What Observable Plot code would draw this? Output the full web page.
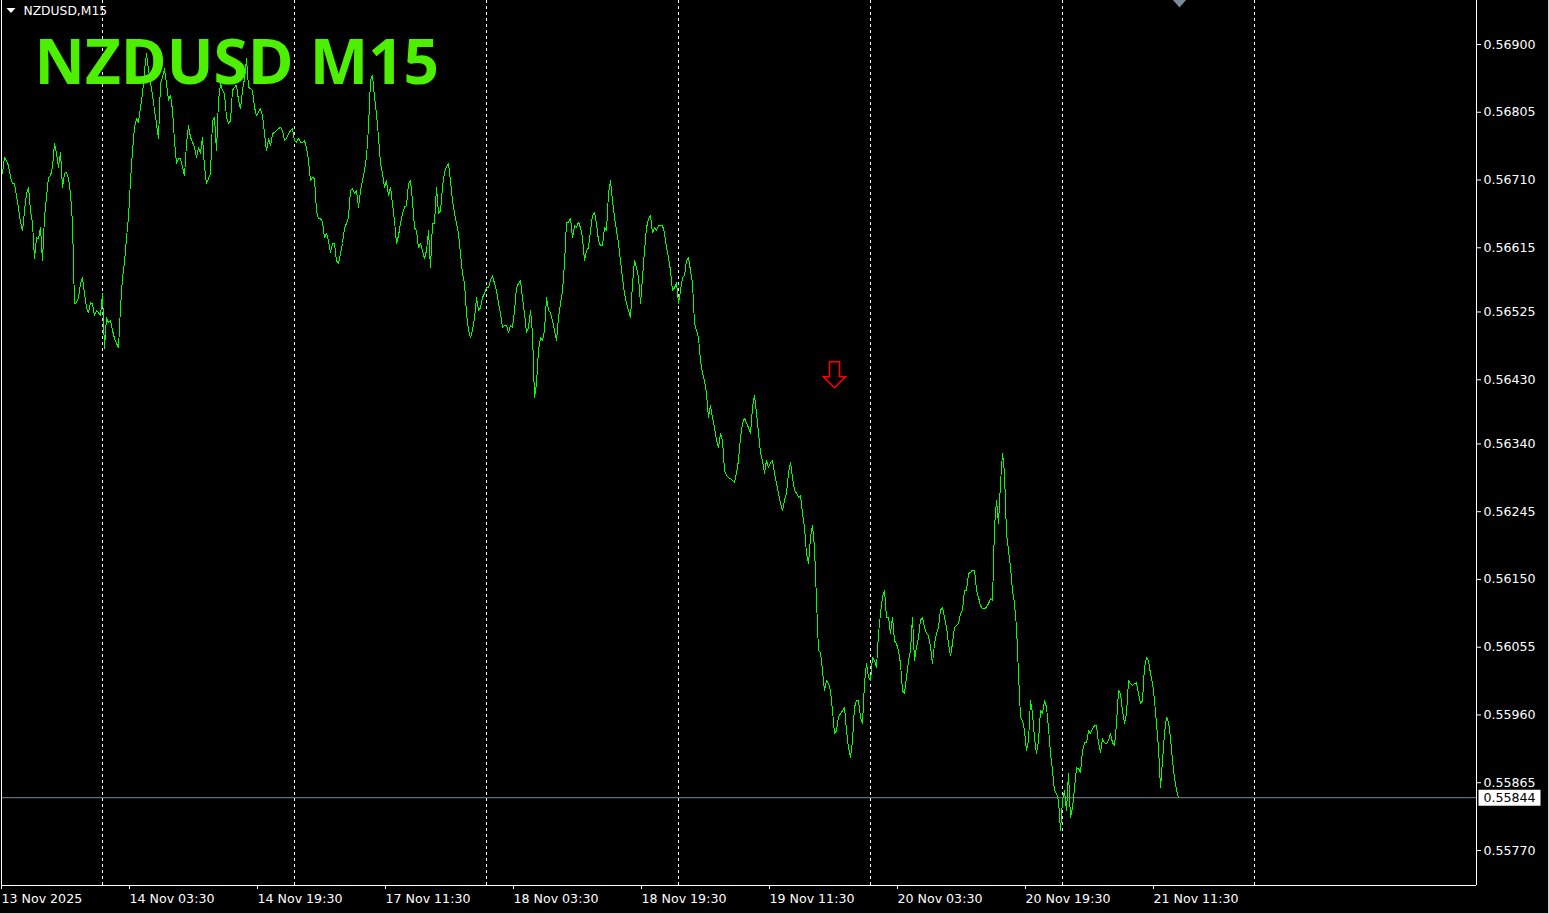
<!DOCTYPE html>
<html>
<head>
<meta charset="utf-8">
<script src="https://cdn.jsdelivr.net/npm/d3@7"></script>
<script src="https://cdn.jsdelivr.net/npm/@observablehq/plot@0.6"></script>
<style>
html, body { margin: 0; padding: 0; background: #000; overflow: hidden; }
#chart { position: relative; width: 1549px; height: 914px; }
#chart::after { content: ""; position: absolute; left: 0; top: 0; width: 1548px; height: 913px;
  border-right: 1px solid #d0d0d0; border-bottom: 1px solid #d0d0d0; pointer-events: none; }
</style>
</head>
<body>
<div id="chart"></div>
<script>
// ---- data ----
const headerText = "NZDUSD,M15";
const titleText = "NZDUSD M15";

// M15 close prices, one per bar, starting 13 Nov 2025 11:30
const closes = [
0.56719,0.56742,0.56737,0.56730,0.56714,0.56705,0.56705,0.56688,0.56670,0.56651,
0.56639,0.56667,0.56691,0.56700,0.56667,0.56649,0.56600,0.56629,0.56628,0.56643,
0.56597,0.56658,0.56686,0.56714,0.56716,0.56728,0.56761,0.56747,0.56728,0.56749,
0.56700,0.56719,0.56721,0.56712,0.56691,0.56649,0.56537,0.56538,0.56545,0.56565,
0.56573,0.56551,0.56531,0.56524,0.56538,0.56537,0.56520,0.56527,0.56524,0.56520,
0.56551,0.56474,0.56517,0.56510,0.56513,0.56499,0.56488,0.56481,0.56475,0.56531,
0.56573,0.56594,0.56629,0.56658,0.56709,0.56751,0.56784,0.56796,0.56791,0.56812,
0.56831,0.56864,0.56887,0.56864,0.56847,0.56829,0.56808,0.56789,0.56768,0.56845,
0.56854,0.56866,0.56845,0.56822,0.56829,0.56808,0.56765,0.56733,0.56740,0.56740,
0.56728,0.56716,0.56761,0.56786,0.56770,0.56763,0.56756,0.56742,0.56756,0.56747,
0.56770,0.56728,0.56705,0.56712,0.56719,0.56793,0.56798,0.56751,0.56822,0.56845,
0.56836,0.56831,0.56798,0.56789,0.56793,0.56836,0.56840,0.56843,0.56822,0.56810,
0.56836,0.56852,0.56880,0.56840,0.56838,0.56836,0.56812,0.56800,0.56805,0.56810,
0.56800,0.56775,0.56751,0.56768,0.56758,0.56775,0.56777,0.56779,0.56782,0.56784,
0.56779,0.56765,0.56768,0.56775,0.56779,0.56782,0.56765,0.56763,0.56768,0.56763,
0.56763,0.56765,0.56756,0.56737,0.56709,0.56714,0.56712,0.56667,0.56656,0.56656,
0.56651,0.56629,0.56635,0.56625,0.56608,0.56621,0.56621,0.56597,0.56593,0.56607,
0.56621,0.56643,0.56649,0.56658,0.56695,0.56698,0.56691,0.56695,0.56672,0.56695,
0.56709,0.56723,0.56742,0.56784,0.56850,0.56857,0.56826,0.56803,0.56770,0.56733,
0.56719,0.56700,0.56709,0.56688,0.56700,0.56677,0.56653,0.56621,0.56632,0.56649,
0.56663,0.56672,0.56674,0.56705,0.56709,0.56681,0.56643,0.56639,0.56615,0.56621,
0.56611,0.56600,0.56611,0.56639,0.56587,0.56649,0.56649,0.56700,0.56663,0.56667,
0.56700,0.56721,0.56728,0.56733,0.56709,0.56681,0.56663,0.56649,0.56635,0.56607,
0.56579,0.56565,0.56523,0.56499,0.56489,0.56499,0.56517,0.56545,0.56527,0.56531,
0.56545,0.56551,0.56559,0.56559,0.56569,0.56576,0.56565,0.56555,0.56537,0.56523,
0.56503,0.56506,0.56506,0.56496,0.56506,0.56503,0.56527,0.56559,0.56565,0.56569,
0.56545,0.56523,0.56496,0.56503,0.56527,0.56495,0.56405,0.56425,0.56471,0.56489,
0.56485,0.56499,0.56545,0.56527,0.56524,0.56513,0.56499,0.56485,0.56517,0.56537,
0.56555,0.56593,0.56651,0.56651,0.56656,0.56629,0.56646,0.56643,0.56651,0.56643,
0.56629,0.56597,0.56611,0.56615,0.56639,0.56660,0.56665,0.56649,0.56625,0.56618,
0.56618,0.56643,0.56639,0.56691,0.56709,0.56681,0.56658,0.56639,0.56621,0.56597,
0.56573,0.56551,0.56537,0.56527,0.56517,0.56565,0.56597,0.56587,0.56573,0.56537,
0.56573,0.56611,0.56643,0.56656,0.56660,0.56636,0.56643,0.56639,0.56646,0.56646,
0.56646,0.56636,0.56615,0.56601,0.56583,0.56555,0.56559,0.56566,0.56537,0.56555,
0.56573,0.56576,0.56597,0.56601,0.56583,0.56565,0.56509,0.56499,0.56489,0.56457,
0.56439,0.56429,0.56411,0.56377,0.56394,0.56377,0.56363,0.56345,0.56335,0.56355,
0.56345,0.56303,0.56296,0.56293,0.56291,0.56289,0.56286,0.56299,0.56317,0.56349,
0.56369,0.56376,0.56369,0.56363,0.56355,0.56391,0.56408,0.56383,0.56355,0.56327,
0.56317,0.56299,0.56317,0.56307,0.56314,0.56317,0.56299,0.56285,0.56271,0.56257,
0.56247,0.56261,0.56271,0.56299,0.56314,0.56293,0.56275,0.56271,0.56265,0.56268,
0.56243,0.56223,0.56186,0.56172,0.56209,0.56226,0.56195,0.56121,0.56050,0.56048,
0.56022,0.55994,0.56008,0.56004,0.55994,0.55966,0.55934,0.55938,0.55957,0.55962,
0.55966,0.55971,0.55938,0.55914,0.55900,0.55924,0.55971,0.55980,0.55980,0.55957,
0.55948,0.56004,0.56032,0.56013,0.56008,0.56041,0.56036,0.56027,0.56074,0.56102,
0.56125,0.56135,0.56097,0.56097,0.56074,0.56097,0.56064,0.56060,0.56050,0.56032,
0.55994,0.55990,0.56013,0.56036,0.56050,0.56097,0.56036,0.56055,0.56069,0.56093,
0.56097,0.56083,0.56074,0.56071,0.56055,0.56032,0.56060,0.56074,0.56083,0.56107,
0.56111,0.56097,0.56083,0.56060,0.56043,0.56060,0.56083,0.56085,0.56088,0.56102,
0.56107,0.56135,0.56135,0.56158,0.56160,0.56163,0.56163,0.56135,0.56125,0.56113,
0.56109,0.56109,0.56111,0.56116,0.56123,0.56121,0.56223,0.56261,0.56229,0.56285,
0.56327,0.56299,0.56214,0.56191,0.56167,0.56135,0.56116,0.56083,0.56018,0.55957,
0.55952,0.55938,0.55910,0.55924,0.55980,0.55962,0.55928,0.55906,0.55924,0.55966,
0.55962,0.55980,0.55971,0.55942,0.55906,0.55882,0.55854,0.55850,0.55840,0.55798,
0.55840,0.55854,0.55826,0.55878,0.55816,0.55830,0.55858,0.55886,0.55885,0.55879,
0.55910,0.55921,0.55921,0.55938,0.55934,0.55941,0.55945,0.55945,0.55921,0.55907,
0.55927,0.55921,0.55920,0.55924,0.55934,0.55921,0.55917,0.55948,0.55994,0.55990,
0.55966,0.55948,0.55962,0.56008,0.56004,0.56001,0.56004,0.56005,0.55990,0.55976,
0.55980,0.56027,0.56041,0.56036,0.56018,0.56005,0.55980,0.55948,0.55914,0.55858,
0.55896,0.55934,0.55957,0.55950,0.55928,0.55896,0.55872,0.55854,0.55844
];

const priceTicks = [0.56900,0.56805,0.56710,0.56615,0.56525,0.56430,0.56340,0.56245,0.56150,0.56055,0.55960,0.55865,0.55770];
const priceTickLabels = ["0.56900","0.56805","0.56710","0.56615","0.56525","0.56430","0.56340","0.56245","0.56150","0.56055","0.55960","0.55865","0.55770"];

const timeTickBars = [0,64,128,192,256,320,384,448,512,576];
const timeTickLabels = ["13 Nov 2025","14 Nov 03:30","14 Nov 19:30","17 Nov 11:30","18 Nov 03:30","18 Nov 19:30","19 Nov 11:30","20 Nov 03:30","20 Nov 19:30","21 Nov 11:30"];

const daySeparatorBars = [50,146,242,338,434,530,626];

const lastPrice = 0.55844;
const lastPriceLabel = "0.55844";

const sellSignals = [{bar: 416, price: 0.56437}];
const shiftMarkerBars = [588.5];

const barDomain = [-0.5, 737];
const priceDomain = [0.557209, 0.569617];

// ---- custom symbols ----
const arrowDown = {draw(c) {
  c.moveTo(-5, -13); c.lineTo(5, -13); c.lineTo(5, 2); c.lineTo(11, 2);
  c.lineTo(0, 13); c.lineTo(-11, 2); c.lineTo(-5, 2); c.closePath();
}};
const shiftMarker = {draw(c) { c.moveTo(-7, -1); c.lineTo(7, -1); c.lineTo(0, 7); c.closePath(); }};
const headerTriangle = {draw(c) { c.moveTo(-4.5, -2.5); c.lineTo(4.5, -2.5); c.lineTo(0, 2.5); c.closePath(); }};
const priceBox = {draw(c) { c.rect(2, -8, 62, 16); }};

const chart = Plot.plot({
  width: 1549,
  height: 914,
  marginLeft: 1,
  marginRight: 73,
  marginTop: 0,
  marginBottom: 29,
  style: {background: "#000", color: "#fff", fontFamily: "'DejaVu Sans', sans-serif", fontSize: "12px"},
  x: {type: "linear", domain: barDomain, axis: null},
  y: {type: "linear", domain: priceDomain, axis: null},
  marks: [
    Plot.ruleX(daySeparatorBars, {x: d => d, stroke: "#fff", strokeWidth: 1, strokeDasharray: "3,3"}),
    Plot.ruleY([lastPrice], {y: d => d, stroke: "#778899", strokeWidth: 1}),
    Plot.line(closes, {x: (d, i) => i, y: d => d, stroke: "#00ff00", strokeWidth: 1, shapeRendering: "crispEdges"}),
    Plot.dot(sellSignals, {x: "bar", y: "price", symbol: arrowDown, stroke: "#ff0000", fill: "none", strokeWidth: 1.6, r: 5}),
    Plot.dot(shiftMarkerBars, {x: d => d, frameAnchor: "top", symbol: shiftMarker, fill: "#7a8a9a", stroke: "none", r: 5}),
    Plot.ruleX([barDomain[0], barDomain[1]], {x: d => d, stroke: "#fff", strokeWidth: 1}),
    Plot.ruleY([priceDomain[0]], {y: d => d, stroke: "#fff", strokeWidth: 1}),
    Plot.axisY({anchor: "right", ticks: priceTicks, tickFormat: d => priceTickLabels[priceTicks.indexOf(d)],
      tickSize: 4, tickPadding: 3, label: null, stroke: "#fff", fill: "#fff", fontSize: 12.6}),
    Plot.axisX({anchor: "bottom", ticks: timeTickBars, tickFormat: d => timeTickLabels[timeTickBars.indexOf(d)],
      tickSize: 4, tickPadding: 5, label: null, textAnchor: "start", dx: -1, stroke: "#fff", fill: "#fff", fontSize: 12.6}),
    Plot.dot([lastPrice], {y: d => d, frameAnchor: "right", symbol: priceBox, fill: "#fff", stroke: "none", r: 5}),
    Plot.text([lastPrice], {y: d => d, frameAnchor: "right", text: () => lastPriceLabel, dx: 7, textAnchor: "start", fill: "#000", fontSize: 12.6}),
    Plot.dot([headerText], {frameAnchor: "top-left", dx: 9.5, dy: 10, symbol: headerTriangle, fill: "#fff", stroke: "none", r: 5}),
    Plot.text([headerText], {frameAnchor: "top-left", text: d => d, dx: 22, dy: 11, textAnchor: "start", lineAnchor: "middle", fill: "#fff", fontSize: 12.3}),
    Plot.text([titleText], {frameAnchor: "top-left", text: d => d, dx: 33, dy: 39.5, textAnchor: "start", lineAnchor: "top",
      fill: "#4cf000", fontSize: 62, fontWeight: "bold", fontFamily: "'Open Sans', sans-serif"})
  ]
});
document.getElementById("chart").appendChild(chart);
</script>
</body>
</html>
